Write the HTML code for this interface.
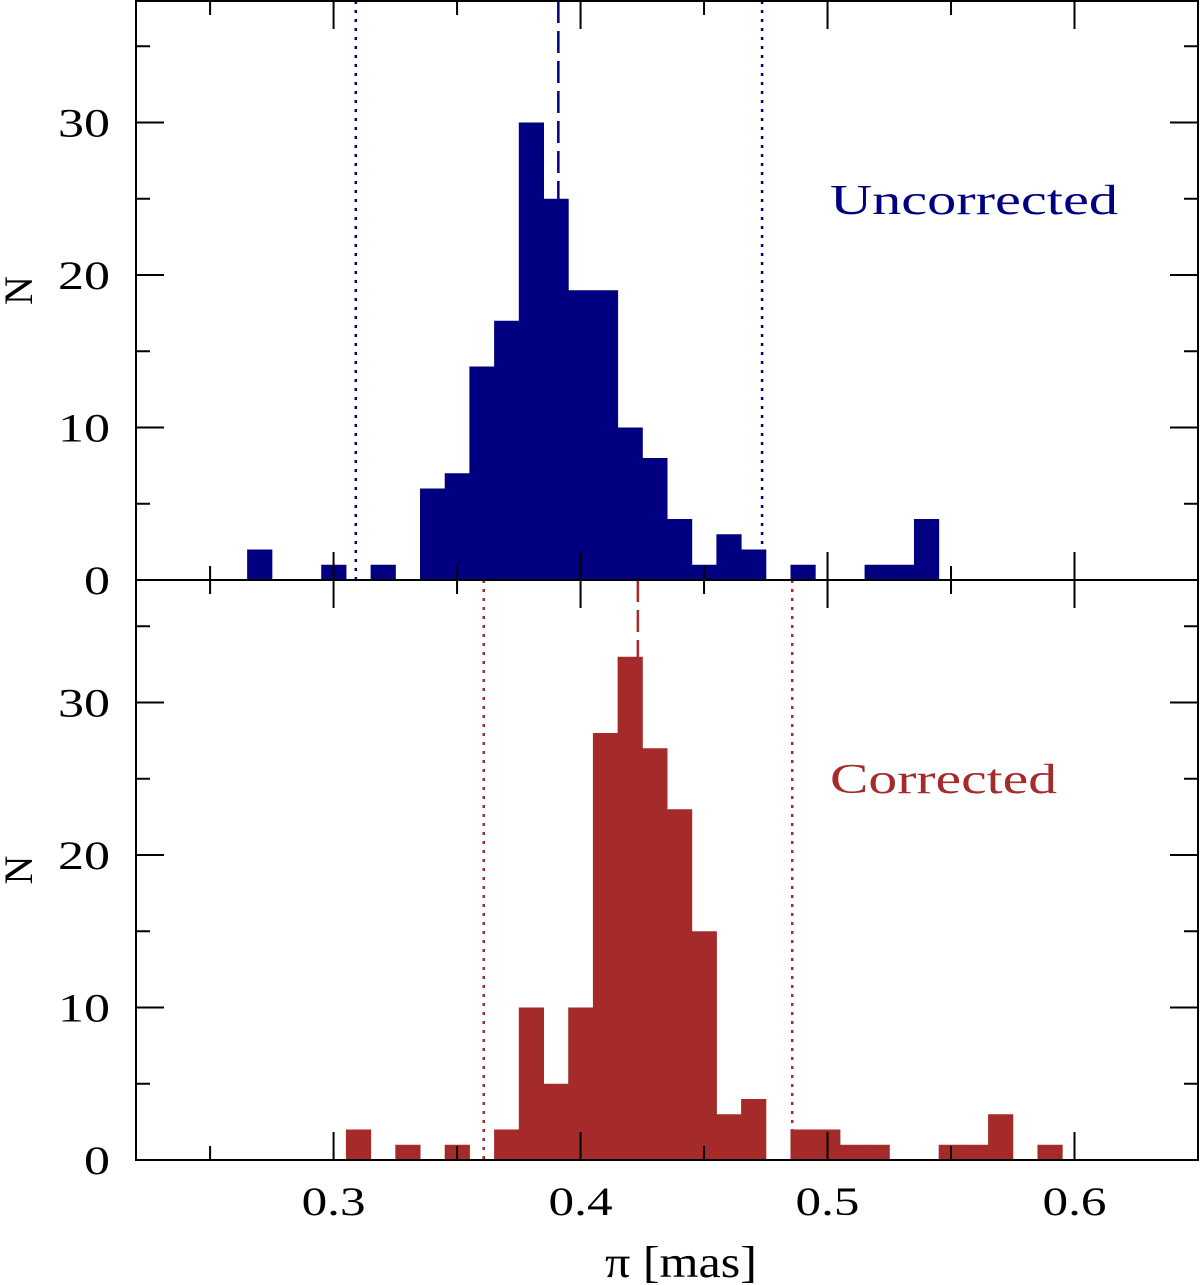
<!DOCTYPE html>
<html><head><meta charset="utf-8"><style>
body{margin:0;background:#fff}
svg{display:block;font-family:"Liberation Serif","DejaVu Serif",serif}
</style></head><body>
<svg id="chart" width="1200" height="1285" viewBox="0 0 1200 1285"></svg>
<script>
const binCenters=[0.27,0.28,0.29,0.30,0.31,0.32,0.33,0.34,0.35,0.36,0.37,0.38,0.39,0.40,0.41,0.42,0.43,0.44,0.45,0.46,0.47,0.48,0.49,0.50,0.51,0.52,0.53,0.54,0.55,0.56,0.57,0.58,0.59];
const uncorrectedCounts=[2,0,0,1,0,1,0,6,7,14,17,30,25,19,19,10,8,4,1,3,2,0,1,0,0,1,1,4,0,0,0,0,0];
const correctedCounts=[0,0,0,0,2,0,1,0,1,0,2,10,5,10,28,33,27,23,15,3,4,0,2,2,1,1,0,0,1,1,3,0,1];
const binWidth=0.01;
const xTickLabels=[0.3,0.4,0.5,0.6];
const yTickLabels=[0,10,20,30];
const uncorrectedLines={mean:0.391,lo:0.309,hi:0.4735};
const correctedLines={mean:0.4232,lo:0.3608,hi:0.4857};

const NS="http://www.w3.org/2000/svg";
const svg=document.getElementById('chart');
const L=136,R=1198,XMIN=0.22,XMAX=0.65;
const xs=v=>L+(v-XMIN)/(XMAX-XMIN)*(R-L);
const PPU=15.25;
function mk(tag,attrs,parent){const e=document.createElementNS(NS,tag);for(const k in attrs)e.setAttribute(k,attrs[k]);(parent||svg).appendChild(e);return e;}

const panels=[
 {top:1,base:580,counts:uncorrectedCounts,color:"#000080",lines:uncorrectedLines,label:"Uncorrected",lw:288,ly:214,name:"uncorrected"},
 {top:580,base:1160,counts:correctedCounts,color:"#a52a2a",lines:correctedLines,label:"Corrected",lw:227,ly:793,name:"corrected"}
];
panels.forEach(p=>{
  const g=mk('g',{});
  
  
  const ys=v=>p.base-v*PPU;
  [['lo','3,6'],['hi','3,6'],['mean','22,8']].forEach(([k,d])=>{
    const ln=mk('line',{x1:xs(p.lines[k]),x2:xs(p.lines[k]),y1:p.top,y2:p.base,stroke:p.color,'stroke-width':2.5,'stroke-dasharray':d},g);
    
    
  });
  p.counts.forEach((c,i)=>{
    if(!c)return;
    const x0=xs(binCenters[i]-binWidth/2),x1=xs(binCenters[i]+binWidth/2);
    const r=mk('rect',{x:x0,y:ys(c),width:x1-x0+0.5,height:c*PPU,fill:p.color},g);
    
    
  });
  const f=mk('rect',{x:L,y:p.top,width:R-L,height:p.base-p.top,fill:'none',stroke:'#000','stroke-width':2},g);
  
  
  for(let v=0.25;v<=0.651;v+=0.05){
    const major=Math.abs(Math.round(v*10)-v*10)<1e-6;
    const len=major?28:14,x=xs(v);
    mk('line',{x1:x,x2:x,y1:p.base,y2:p.base-len,stroke:'#000','stroke-width':2},g);
    mk('line',{x1:x,x2:x,y1:p.top,y2:p.top+len,stroke:'#000','stroke-width':2},g);
  }
  for(let v=5;v<=35;v+=5){
    const len=v%10===0?28:14,y=ys(v);
    mk('line',{x1:L,x2:L+len,y1:y,y2:y,stroke:'#000','stroke-width':2},g);
    mk('line',{x1:R,x2:R-len,y1:y,y2:y,stroke:'#000','stroke-width':2},g);
  }
  yTickLabels.forEach(v=>{
    const s=String(v);
    const t=mk('text',{x:110,y:ys(v)+14,'text-anchor':'end','font-size':40,textLength:s.length*26,lengthAdjust:'spacingAndGlyphs'},g);
    t.textContent=s;
    
    
  });
  const yt=mk('text',{transform:`translate(32,${p.top+(p.base-p.top)/2}) rotate(-90)`,'text-anchor':'middle','font-size':40},g);
  yt.textContent='N';
  
  
  const lab=mk('text',{x:830,y:p.ly,'font-size':42,fill:p.color,textLength:p.lw,lengthAdjust:'spacingAndGlyphs'},g);
  lab.textContent=p.label;
  
  
});
xTickLabels.forEach(v=>{
  const t=mk('text',{x:xs(v),y:1215,'text-anchor':'middle','font-size':40,textLength:64,lengthAdjust:'spacingAndGlyphs'});
  t.textContent=v.toFixed(1);
  
  
});
const xt=mk('text',{x:681,y:1277,'text-anchor':'middle','font-size':44,textLength:152,lengthAdjust:'spacingAndGlyphs'});
xt.textContent='π [mas]';


</script>
</body></html>
